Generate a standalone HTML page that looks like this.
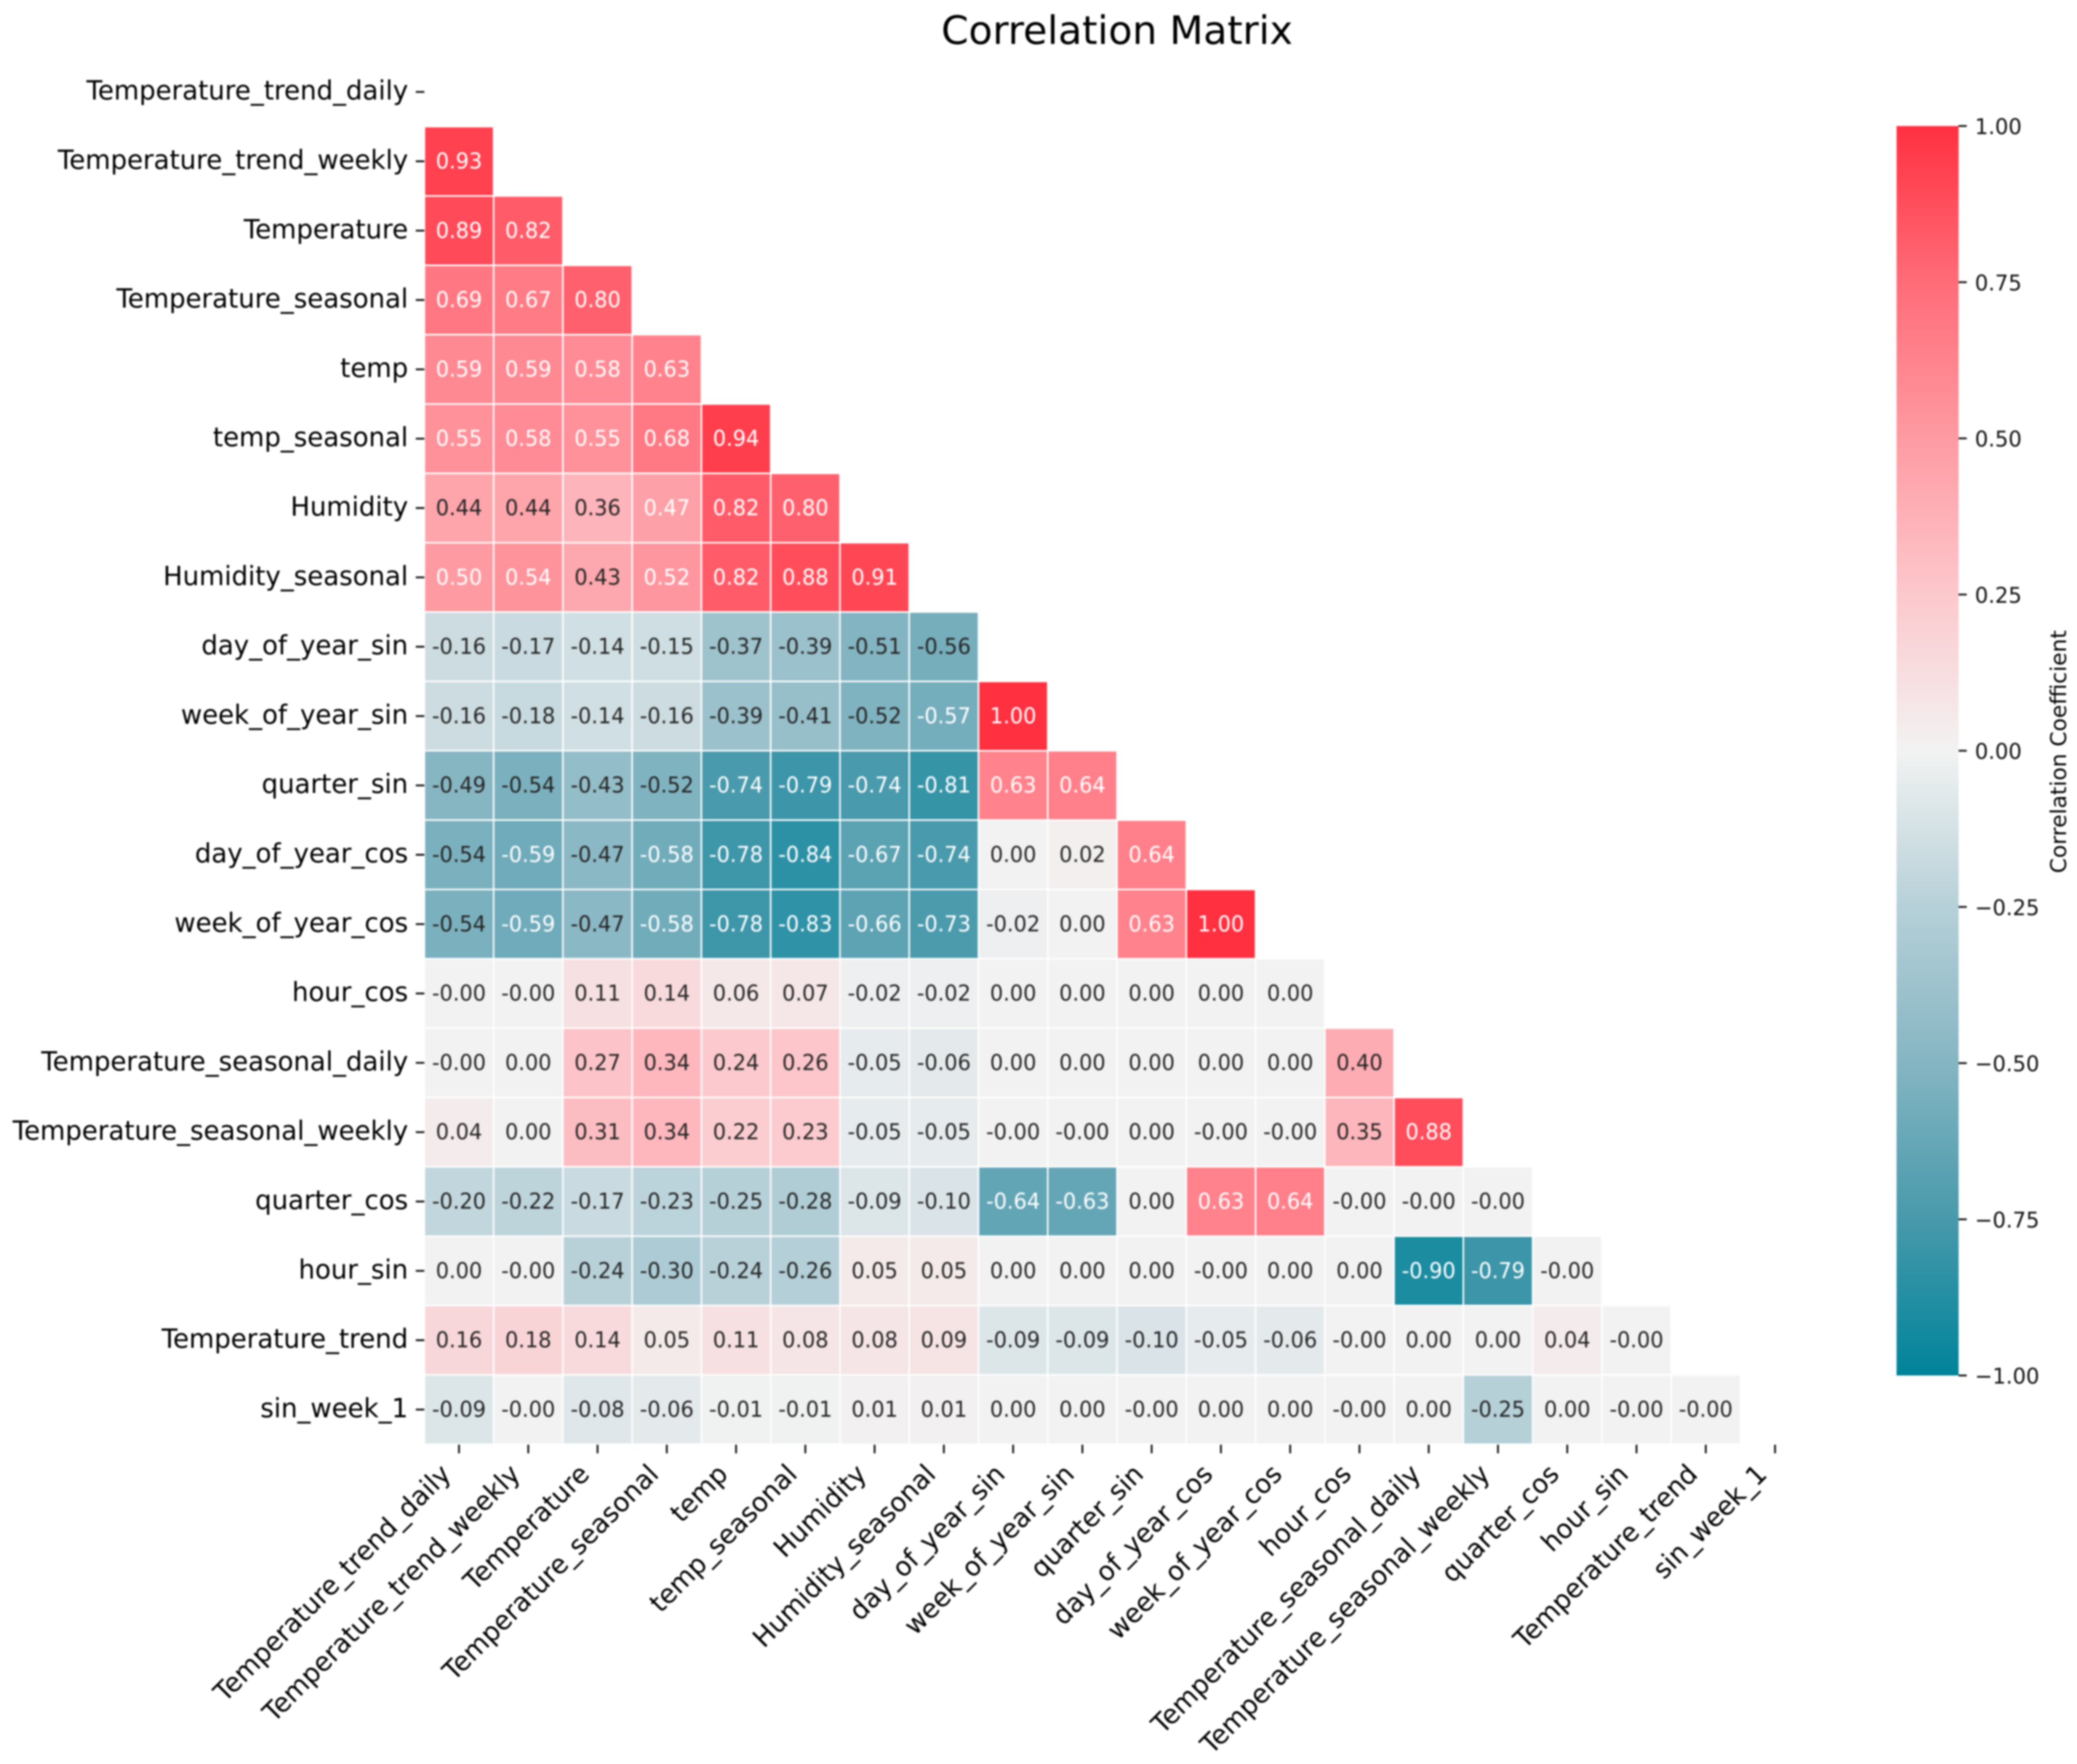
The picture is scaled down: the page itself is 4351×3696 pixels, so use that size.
<!DOCTYPE html>
<html lang="en">
<head>
<meta charset="utf-8">
<title>Correlation Matrix</title>
<style>
html,body{margin:0;padding:0;background:#fff;}
body{width:4351px;height:3696px;overflow:hidden;}
svg{display:block;font-family:"DejaVu Sans","Liberation Sans",sans-serif;text-rendering:geometricPrecision;}
#art{filter:blur(1.8px);}
</style>
</head>
<body>
<svg id="chart" xmlns="http://www.w3.org/2000/svg" width="4351" height="3696" viewBox="0 0 4351 3696">
<defs>
<linearGradient id="cbGrad" x1="0" y1="0" x2="0" y2="1"></linearGradient>
</defs>
<rect x="0" y="0" width="4351" height="3696" fill="#ffffff"></rect>
<g id="art">
<text x="2340" y="92" font-size="82" text-anchor="middle" fill="#000000">Correlation Matrix</text>
<g id="cells"></g>
<g id="annots"></g>
<g id="yaxis"></g>
<g id="xaxis"></g>
<g id="colorbar"></g>
<text transform="translate(4328,1575) rotate(-90)" font-size="45.5" text-anchor="middle" fill="#000000">Correlation Coefficient</text>
</g>
</svg>
<script>
const categories = ["Temperature_trend_daily","Temperature_trend_weekly","Temperature","Temperature_seasonal","temp","temp_seasonal","Humidity","Humidity_seasonal","day_of_year_sin","week_of_year_sin","quarter_sin","day_of_year_cos","week_of_year_cos","hour_cos","Temperature_seasonal_daily","Temperature_seasonal_weekly","quarter_cos","hour_sin","Temperature_trend","sin_week_1"];

const correlationRows = [
[],
[0.93],
[0.89,0.82],
[0.69,0.67,0.80],
[0.59,0.59,0.58,0.63],
[0.55,0.58,0.55,0.68,0.94],
[0.44,0.44,0.36,0.47,0.82,0.80],
[0.50,0.54,0.43,0.52,0.82,0.88,0.91],
[-0.16,-0.17,-0.14,-0.15,-0.37,-0.39,-0.51,-0.56],
[-0.16,-0.18,-0.14,-0.16,-0.39,-0.41,-0.52,-0.57,1.00],
[-0.49,-0.54,-0.43,-0.52,-0.74,-0.79,-0.74,-0.81,0.63,0.64],
[-0.54,-0.59,-0.47,-0.58,-0.78,-0.84,-0.67,-0.74,0.00,0.02,0.64],
[-0.54,-0.59,-0.47,-0.58,-0.78,-0.83,-0.66,-0.73,-0.02,0.00,0.63,1.00],
[-0,-0,0.11,0.14,0.06,0.07,-0.02,-0.02,0.00,0.00,0.00,0.00,0.00],
[-0,0.00,0.27,0.34,0.24,0.26,-0.05,-0.06,0.00,0.00,0.00,0.00,0.00,0.40],
[0.04,0.00,0.31,0.34,0.22,0.23,-0.05,-0.05,-0,-0,0.00,-0,-0,0.35,0.88],
[-0.20,-0.22,-0.17,-0.23,-0.25,-0.28,-0.09,-0.10,-0.64,-0.63,0.00,0.63,0.64,-0,-0,-0],
[0.00,-0,-0.24,-0.30,-0.24,-0.26,0.05,0.05,0.00,0.00,0.00,-0,0.00,0.00,-0.90,-0.79,-0],
[0.16,0.18,0.14,0.05,0.11,0.08,0.08,0.09,-0.09,-0.09,-0.10,-0.05,-0.06,-0,0.00,0.00,0.04,-0],
[-0.09,-0,-0.08,-0.06,-0.01,-0.01,0.01,0.01,0.00,0.00,-0,0.00,0.00,-0,0.00,-0.25,0.00,-0,-0]
];

const colorbarTicks = [1.00,0.75,0.50,0.25,0.00,-0.25,-0.50,-0.75,-1.00];

const colormapValues = [-1,-0.75,-0.5,-0.25,0,0.25,0.5,0.75,1];
const colormapColors = ["#00839a","#4799ab","#85b5c2","#b6d0d8","#f2f2f2","#fcc8cc","#fe9aa2","#ff6c78","#ff3040"];

const NS = "http://www.w3.org/2000/svg";
const plotLeft = 889, plotTop = 120, cellW = 145.1, cellH = 145.3;
const cbLeft = 3973, cbRight = 4103, cbTop = 264, cbBottom = 2882;

function xBand(i){ return plotLeft + i * cellW; }
function yBand(i){ return plotTop + i * cellH; }
function cbScale(v){ return cbTop + (1 - v) / 2 * (cbBottom - cbTop); }

function hexToRgb(h){ return [1,3,5].map(function(k){ return parseInt(h.substr(k,2),16); }); }
function colorFor(v){
  const c = Math.max(-1, Math.min(1, v));
  for (let k = 0; k < colormapValues.length - 1; k++){
    if (c <= colormapValues[k+1]){
      const t = (c - colormapValues[k]) / (colormapValues[k+1] - colormapValues[k]);
      const a = hexToRgb(colormapColors[k]), b = hexToRgb(colormapColors[k+1]);
      return "rgb(" + a.map(function(x,n){ return Math.round(x + (b[n]-x)*t); }).join(",") + ")";
    }
  }
  return colormapColors[colormapColors.length-1];
}
function fmt(v){
  const neg = v < 0 || Object.is(v, -0);
  return (neg ? "-" : "") + Math.abs(v).toFixed(2);
}
function cbFmt(v){
  return (v < 0 ? "\u2212" : "") + Math.abs(v).toFixed(2);
}
function annotColor(v){ return (v <= -0.565 || v >= 0.465) ? "#ffffff" : "#262626"; }
function make(tag, attrs, parent, text){
  const el = document.createElementNS(NS, tag);
  for (const k in attrs) el.setAttribute(k, attrs[k]);
  if (text !== undefined) el.textContent = text;
  parent.appendChild(el);
  return el;
}

const gCells = document.getElementById("cells");
const gAnnots = document.getElementById("annots");
const gY = document.getElementById("yaxis");
const gX = document.getElementById("xaxis");
const gCb = document.getElementById("colorbar");

correlationRows.forEach(function(row, r){
  row.forEach(function(v, c){
    const cell = make("rect", {x:xBand(c), y:yBand(r), width:cellW, height:cellH, fill:colorFor(v), stroke:"#ffffff", "stroke-width":3.2}, gCells);
    
    
    const label = make("text", {transform:"translate("+(xBand(c)+cellW/2)+","+(yBand(r)+cellH/2+15)+") scale(0.95,1)", "font-size":46, "text-anchor":"middle", fill:annotColor(v)}, gAnnots, fmt(v));
    
    
  });
});

categories.forEach(function(name, i){
  const cy = yBand(i) + cellH/2;
  const yTick = make("line", {x1:plotLeft-18, x2:plotLeft, y1:cy, y2:cy, stroke:"#111111", "stroke-width":3.8}, gY);
  
  
  const yLabel = make("text", {transform:"translate(855,"+(cy+16)+") scale(0.978,1)", "font-size":55.6, "text-anchor":"end", fill:"#000000"}, gY, name);
  
  

  const cx = xBand(i) + cellW/2;
  const xTick = make("line", {x1:cx, x2:cx, y1:3027, y2:3045, stroke:"#111111", "stroke-width":3.8}, gX);
  
  
  const xLabel = make("text", {transform:"translate("+(cx-14)+",3092) rotate(-45) scale(0.978,1)", "font-size":55.6, "text-anchor":"end", fill:"#000000"}, gX, name);
  
  
});

const grad = document.getElementById("cbGrad");
colormapValues.slice().reverse().forEach(function(v){
  make("stop", {offset:(1-v)/2, "stop-color":colorFor(v)}, grad);
});
const cbBar = make("rect", {x:cbLeft, y:cbTop, width:cbRight-cbLeft, height:cbBottom-cbTop, fill:"url(#cbGrad)"}, gCb);


colorbarTicks.forEach(function(v){
  const y = cbScale(v);
  const cbTick = make("line", {x1:cbRight, x2:cbRight+17, y1:y, y2:y, stroke:"#111111", "stroke-width":3.8}, gCb);
  
  
  const cbLabel = make("text", {transform:"translate(4137,"+(y+17)+") scale(0.97,1)", "font-size":45.5, fill:"#111111"}, gCb, cbFmt(v));
  
  
});
</script>
</body>
</html>
